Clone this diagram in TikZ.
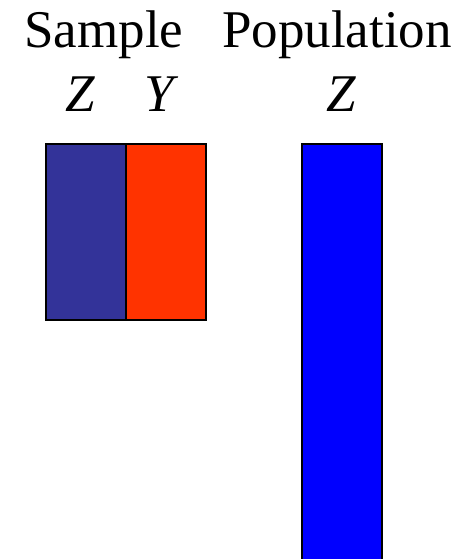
\documentclass[tikz,border=0pt]{standalone}
\usepackage{fontspec}
\setmainfont{Liberation Serif}
\definecolor{darkblue}{HTML}{333399}
\definecolor{redorange}{HTML}{FF3300}
\definecolor{pureblue}{HTML}{0000FF}
\begin{document}
\begin{tikzpicture}[x=1pt,y=-1pt,
  lbl/.style={inner sep=0pt,anchor=base,font=\fontsize{53}{60}\selectfont},
  bar/.style={draw=black,line width=2pt}]
\useasboundingbox (0,0) rectangle (476,559);
\clip (0,0) rectangle (476,559);
\node[lbl] (sample) at (104,48) {Sample};
\node[lbl] (population) at (337,48) {Population};
\node[lbl] (z1) at (80,112) {\textit{Z}};
\node[lbl] (y1) at (162,112) {\textit{Y}};
\node[lbl] (z2) at (341,112) {\textit{Z}};
\filldraw[bar,fill=darkblue] (46,144) rectangle (126,320);
\filldraw[bar,fill=redorange] (126,144) rectangle (206,320);
\filldraw[bar,fill=pureblue] (302,144) rectangle (382,575);
\end{tikzpicture}
\end{document}
